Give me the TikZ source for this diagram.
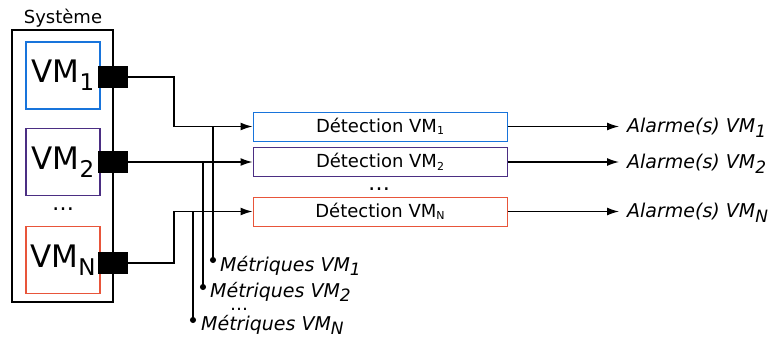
\documentclass[tikz,border=0pt]{standalone}
\usepackage{fontspec}
\setmainfont{DejaVu Sans}
\usepackage{xcolor}
\usetikzlibrary{arrows.meta, positioning}

\definecolor{vmblue}{HTML}{1874DB}
\definecolor{vmpurple}{HTML}{4B2E83}
\definecolor{vmred}{HTML}{E8553A}

% indice : taille, descente, texte
\newcommand{\indice}[3]{\raisebox{-#2}{\fontsize{#1}{#1}\selectfont #3}}

\begin{document}
\begin{tikzpicture}[x=1pt, y=-1pt,
    font=\fontsize{18}{21}\selectfont,
    >={Latex[length=12pt, width=8pt]},
    vmbox/.style={draw, line width=1.8pt, minimum width=74pt,
        minimum height=67pt, inner sep=0pt,
        font=\fontsize{31}{36}\selectfont},
    port/.style={fill=black, minimum width=30pt, minimum height=22pt,
        inner sep=0pt},
    detbox/.style={draw, line width=1pt, minimum width=254pt,
        minimum height=29pt, inner sep=0pt},
    sortie/.style={anchor=base west, inner sep=0pt,
        font=\fontsize{19}{22}\selectfont\itshape},
    points/.style={anchor=base, inner sep=0pt,
        font=\fontsize{22}{24}\selectfont},
    lien/.style={line width=1.3pt},
    tap/.style={line width=1.2pt, {Circle[length=6pt]}-}]

\useasboundingbox (0,0) rectangle (768,338);

\node[draw, line width=1.3pt, minimum width=101pt,
    minimum height=272pt] at (62.5,166) (systeme) {};
\node[anchor=base, inner sep=0pt] at (63,23) (titre) {Système};

\node[vmbox, vmblue] at (63,75.5) (vm1) {\color{black}VM\indice{23pt}{8pt}{1}};
\node[vmbox, vmpurple] at (63,162) (vm2) {\color{black}VM\indice{23pt}{8pt}{2}};
\node[points] at (63,210) (vmdots) {\dots};
\node[vmbox, vmred] at (63,260) (vmN) {\color{black}VM\indice{23pt}{8pt}{N}};

\node[port] at (113,77) (port1) {};
\node[port] at (113,162) (port2) {};
\node[port] at (113,263) (portN) {};

\node[detbox, draw=vmblue] at (380,126.5) (det1) {Détection VM\indice{11pt}{2.5pt}{1}};
\node[detbox, draw=vmpurple] at (380,162) (det2) {Détection VM\indice{11pt}{2.5pt}{2}};
\node[points] at (379,190) (detdots) {\dots};
\node[detbox, draw=vmred] at (380,211.5) (detN) {Détection VM\indice{11pt}{2.5pt}{N}};

\node[sortie] at (627,132) (alarme1) {Alarme(s) VM\indice{17pt}{5pt}{1}};
\node[sortie] at (627,168) (alarme2) {Alarme(s) VM\indice{17pt}{5pt}{2}};
\node[sortie] at (627,217) (alarmeN) {Alarme(s) VM\indice{17pt}{5pt}{N}};

\coordinate (coude1) at (174,77);
\coordinate (coudeN) at (174,263);

\draw[lien, ->] (port1.east) -- (coude1) |- (det1.west);
\draw[lien, ->] (port2.east) -- (det2.west);
\draw[lien, ->] (portN.east) -- (coudeN) |- (detN.west);

\draw[lien, ->] (det1.east) -- ([xshift=-8pt]det1.east -| alarme1.west);
\draw[lien, ->] (det2.east) -- ([xshift=-8pt]det2.east -| alarme2.west);
\draw[lien, ->] (detN.east) -- ([xshift=-8pt]detN.east -| alarmeN.west);

\coordinate (met1) at (213,263);
\coordinate (met2) at (203,290);
\coordinate (metN) at (193,323);

\draw[tap] (met1) -- (met1 |- det1.west);
\draw[tap] (met2) -- (met2 |- det2.west);
\draw[tap] (metN) -- (metN |- detN.west);

\node[sortie] at (220,271) (metrique1) {Métriques VM\indice{17pt}{4.5pt}{1}};
\node[sortie] at (210,297) (metrique2) {Métriques VM\indice{17pt}{4.5pt}{2}};
\node[points, font=\fontsize{18}{20}\selectfont] at (239,310) (metdots) {\dots};
\node[sortie] at (201,330) (metriqueN) {Métriques VM\indice{17pt}{4pt}{N}};

\end{tikzpicture}
\end{document}
